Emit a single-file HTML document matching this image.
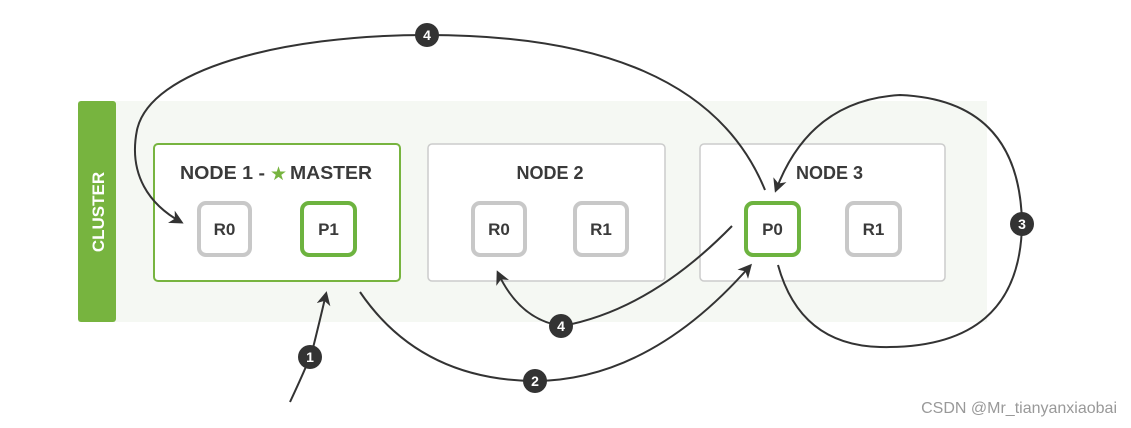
<!DOCTYPE html>
<html><head><meta charset="utf-8"><style>
html,body{margin:0;padding:0;background:#fff;}
svg{display:block;}
text{font-family:"Liberation Sans","DejaVu Sans",sans-serif;font-weight:bold;}
</style></head><body>
<svg width="1131" height="428" viewBox="0 0 1131 428" xmlns="http://www.w3.org/2000/svg">
<defs>
<marker id="ah" markerWidth="14" markerHeight="14" refX="11" refY="7" orient="auto" markerUnits="userSpaceOnUse">
<path d="M0,0 L14,7 L0,14 L4,7 Z" fill="#333"/>
</marker>
</defs>
<rect x="0" y="0" width="1131" height="428" fill="#fff"/>
<rect x="78" y="101" width="909" height="221" fill="#f5f8f3"/>
<rect x="78" y="101" width="38" height="221" rx="3" fill="#77b43f"/>
<text x="0" y="0" transform="translate(104,212) rotate(-90)" text-anchor="middle" font-size="17" fill="#fff">CLUSTER</text>
<rect x="154" y="144" width="246" height="137" rx="4" fill="#fff" stroke="#77b43f" stroke-width="2"/>
<rect x="428" y="144" width="237" height="137" rx="4" fill="#fff" stroke="#ccc" stroke-width="1.5"/>
<rect x="700" y="144" width="245" height="137" rx="4" fill="#fff" stroke="#ccc" stroke-width="1.5"/>
<text x="180" y="179" font-size="18" fill="#3a3a3a" textLength="85" lengthAdjust="spacingAndGlyphs">NODE 1 -</text>
<text x="270" y="180" font-size="19" fill="#77b43f">★</text>
<text x="290" y="179" font-size="18" fill="#3a3a3a" textLength="82" lengthAdjust="spacingAndGlyphs">MASTER</text>
<text x="550" y="179" font-size="18" fill="#3a3a3a" text-anchor="middle">NODE 2</text>
<text x="796" y="179" font-size="18" fill="#3a3a3a">NODE 3</text>
<g font-size="17" text-anchor="middle" fill="#3a3a3a">
<rect x="199" y="203" width="51" height="52" rx="7" fill="#fff" stroke="#c8c8c8" stroke-width="4"/>
<text x="224.5" y="235">R0</text>
<rect x="302" y="203" width="53" height="52" rx="7" fill="#fff" stroke="#6db33f" stroke-width="4"/>
<text x="328.5" y="235">P1</text>
<rect x="473" y="203" width="52" height="52" rx="7" fill="#fff" stroke="#c8c8c8" stroke-width="4"/>
<text x="499" y="235">R0</text>
<rect x="575" y="203" width="52" height="52" rx="7" fill="#fff" stroke="#c8c8c8" stroke-width="4"/>
<text x="601" y="235">R1</text>
<rect x="746" y="203" width="53" height="52" rx="7" fill="#fff" stroke="#6db33f" stroke-width="4"/>
<text x="772.5" y="235">P0</text>
<rect x="847" y="203" width="53" height="52" rx="7" fill="#fff" stroke="#c8c8c8" stroke-width="4"/>
<text x="873.5" y="235">R1</text>
</g>
<g fill="none" stroke="#333" stroke-width="2">
<path d="M290,402 Q305,370 312,352 Q320,320 326,294" marker-end="url(#ah)"/>
<path d="M360,292 Q420,380 535,381 Q650,380 750,266" marker-end="url(#ah)"/>
<path d="M732,226 Q650,310 562,326 Q520,320 498,273" marker-end="url(#ah)"/>
<path d="M765,190 C720,80 600,35 427,35 C280,35 150,70 137,130 C128,175 150,205 181,222" marker-end="url(#ah)"/>
<path d="M778,265 Q800,345 880,347 Q1020,350 1022,224 Q1020,100 900,95 Q810,100 776,190" marker-end="url(#ah)"/>
</g>
<g font-size="14" text-anchor="middle" fill="#fff">
<circle cx="310" cy="357" r="12" fill="#333"/><text x="310" y="362">1</text>
<circle cx="535" cy="381" r="12" fill="#333"/><text x="535" y="386">2</text>
<circle cx="1022" cy="224" r="12" fill="#333"/><text x="1022" y="229">3</text>
<circle cx="427" cy="35" r="12" fill="#333"/><text x="427" y="40">4</text>
<circle cx="561" cy="326" r="12" fill="#333"/><text x="561" y="331">4</text>
</g>
<text x="1117" y="413" font-size="16" fill="#999" text-anchor="end" style="font-weight:normal">CSDN @Mr_tianyanxiaobai</text>
</svg>
</body></html>
